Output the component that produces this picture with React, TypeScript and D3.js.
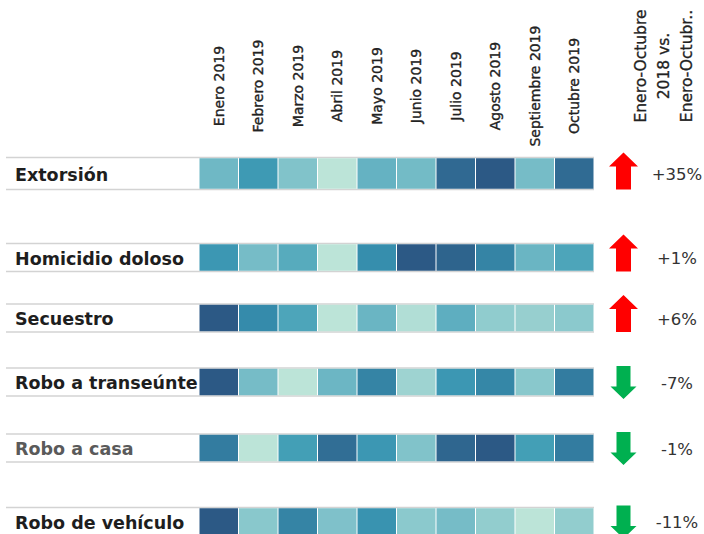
import React from "react";
import * as d3 from "d3";

// ---------- DATA ----------
const months = [
  "Enero 2019",
  "Febrero 2019",
  "Marzo 2019",
  "Abril 2019",
  "Mayo 2019",
  "Junio 2019",
  "Julio 2019",
  "Agosto 2019",
  "Septiembre 2019",
  "Octubre 2019",
];

const crimes = [
  "Extorsión",
  "Homicidio doloso",
  "Secuestro",
  "Robo a transeúnte",
  "Robo a casa",
  "Robo de vehículo",
];

// relative intensity per month (0 = lowest month, 1 = highest month of the row)
const extorsion = [0.33, 0.55, 0.25, 0.0, 0.37, 0.31, 0.88, 1.0, 0.3, 0.87];
const homicidio = [0.57, 0.3, 0.43, 0.0, 0.63, 1.0, 0.92, 0.7, 0.35, 0.47];
const secuestro = [1.0, 0.65, 0.47, 0.0, 0.35, 0.04, 0.4, 0.18, 0.15, 0.2];
const roboTranseunte = [1.0, 0.3, 0.0, 0.34, 0.7, 0.12, 0.57, 0.68, 0.21, 0.75];
const roboCasa = [0.75, 0.0, 0.52, 0.85, 0.57, 0.25, 0.9, 1.0, 0.52, 0.75];
const roboVehiculo = [1.0, 0.21, 0.7, 0.26, 0.6, 0.2, 0.3, 0.17, 0.0, 0.17];

const seriesValues = [extorsion, homicidio, secuestro, roboTranseunte, roboCasa, roboVehiculo];

// Enero-Octubre 2018 vs. Enero-Octubre 2019 change (%)
const changes = [35, 1, 6, -7, -1, -11];

const changeHeader = ["Enero-Octubre", "2018 vs.", "Enero-Octubr.."];

const blueTeal = [
  "#bce4d8", "#aedcd5", "#a1d5d2", "#95cecf", "#89c8cc", "#7ec1ca", "#72bac6",
  "#66b2c2", "#59acbe", "#4ba5ba", "#419eb6", "#3b96b2", "#358ead", "#3586a7",
  "#347ea1", "#32779b", "#316f96", "#2f6790", "#2d608a", "#2c5985",
];

// ---------- LAYOUT ----------
const W = 704;
const H = 534;
const rowTops = [157.5, 243.5, 304, 368, 434, 507.5];
const rowHeights = [32, 28, 28, 28, 28, 28];
const gridLeft = 199;
const gridRight = 594;
const lineLeft = 6;
const arrowX = 623.5;
const pctX = 677;
const FONT = "'DejaVu Sans', sans-serif";

function arrowPath(cx: number, top: number, h: number, headW: number, shaftW: number, headH: number, up: boolean) {
  const p = d3.path();
  if (up) {
    p.moveTo(cx, top);
    p.lineTo(cx + headW / 2, top + headH);
    p.lineTo(cx + shaftW / 2, top + headH);
    p.lineTo(cx + shaftW / 2, top + h);
    p.lineTo(cx - shaftW / 2, top + h);
    p.lineTo(cx - shaftW / 2, top + headH);
    p.lineTo(cx - headW / 2, top + headH);
  } else {
    const b = top + h;
    p.moveTo(cx, b);
    p.lineTo(cx + headW / 2, b - headH);
    p.lineTo(cx + shaftW / 2, b - headH);
    p.lineTo(cx + shaftW / 2, top);
    p.lineTo(cx - shaftW / 2, top);
    p.lineTo(cx - shaftW / 2, b - headH);
    p.lineTo(cx - headW / 2, b - headH);
  }
  p.closePath();
  return p.toString();
}

const locale = d3.formatLocale({
  decimal: ".",
  thousands: ",",
  grouping: [3],
  currency: ["$", ""],
  minus: "-",
});

export default function App() {
  const x = d3.scaleBand<string>().domain(months).range([gridLeft, gridRight]);
  const yTop = d3.scaleOrdinal<string, number>().domain(crimes).range(rowTops);
  const hRow = d3.scaleOrdinal<string, number>().domain(crimes).range(rowHeights);
  const color = d3.scaleSequential(d3.interpolateRgbBasis(blueTeal)).domain([0, 1]);
  const fmt = locale.format("+.0f");

  return (
    <svg
      width={W}
      height={H}
      style={{ position: "absolute", left: 0, top: 0, background: "#fff" }}
      fontFamily={FONT}
    >
      {/* month headers */}
      {months.map((m) => {
        const cx = (x(m) as number) + x.bandwidth() / 2;
        return (
          <text
            key={m}
            transform={`translate(${cx},86) rotate(-90)`}
            textAnchor="middle"
            dominantBaseline="central"
            fontSize={14}
            fill="#222"
            stroke="#222"
            strokeWidth={0.35}
          >
            {m}
          </text>
        );
      })}

      {/* change header */}
      {changeHeader.map((t, i) => (
        <text
          key={t}
          transform={`translate(${641 + i * 23},66) rotate(-90)`}
          textAnchor="middle"
          dominantBaseline="central"
          fontSize={15.5}
          fill="#222"
          stroke="#222"
          strokeWidth={0.3}
        >
          {t}
        </text>
      ))}

      {crimes.map((c, ri) => {
        const top = yTop(c);
        const h = hRow(c);
        const cy = top + h / 2;
        const v = changes[ri];
        const up = v > 0;
        return (
          <g key={c}>
            <line x1={lineLeft} x2={gridRight} y1={top} y2={top} stroke="#d3d3d3" strokeWidth={1.5} />
            <line x1={lineLeft} x2={gridRight} y1={top + h} y2={top + h} stroke="#d3d3d3" strokeWidth={1.5} />
            {seriesValues[ri].map((val, mi) => (
              <rect
                key={mi}
                x={(x(months[mi]) as number) + 0.5}
                y={top + 0.75}
                width={x.bandwidth() - 1}
                height={h - 1.5}
                fill={color(val)}
              />
            ))}
            <text
              x={15}
              y={cy + 1}
              dominantBaseline="central"
              fontSize={17.5}
              fontWeight="bold"
              fill={c === "Robo a casa" ? "#5a5a5a" : "#1e1e1e"}
            >
              {c}
            </text>
            <path
              d={
                up
                  ? arrowPath(arrowX, top + h - 37, 37, 29, 15, 14, true)
                  : arrowPath(arrowX, top - 2, 33, 26, 14, 12.5, false)
              }
              fill={up ? "#ff0000" : "#00b050"}
            />
            <text
              x={pctX}
              y={cy + 1}
              textAnchor="middle"
              dominantBaseline="central"
              fontSize={16.5}
              fill="#333"
            >
              {fmt(v) + "%"}
            </text>
          </g>
        );
      })}
    </svg>
  );
}
